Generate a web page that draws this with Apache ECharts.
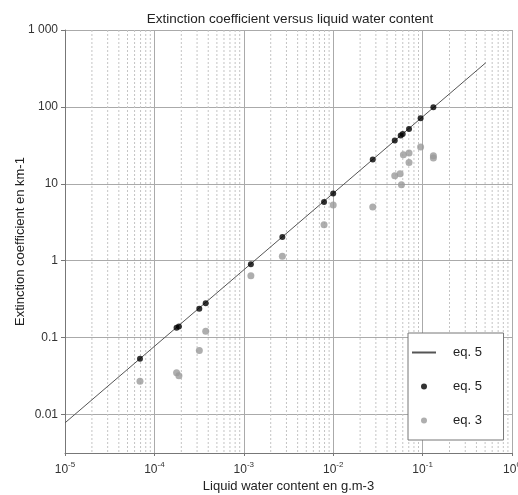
<!DOCTYPE html>
<html>
<head>
<meta charset="utf-8">
<script src="https://cdn.jsdelivr.net/npm/echarts@6/dist/echarts.min.js"></script>
<style>html,body{margin:0;padding:0;background:#fff;}#c{width:518px;height:495px;}</style>
</head>
<body>
<div id="c"></div>
<script>
// Data
var lwcEq5 = [6.9e-5, 1.77e-4, 1.88e-4, 3.18e-4, 3.75e-4, 1.2e-3, 2.7e-3, 7.9e-3, 1.0e-2, 2.77e-2, 4.88e-2, 5.69e-2, 5.99e-2, 7.05e-2, 9.5e-2, 0.132];
var extEq5 = [0.053, 0.134, 0.140, 0.238, 0.279, 0.90, 2.03, 5.8, 7.5, 20.7, 36.5, 42.4, 44.6, 51.8, 71.3, 99];
var lwcEq3 = [6.9e-5, 1.77e-4, 1.88e-4, 3.18e-4, 3.75e-4, 1.2e-3, 2.7e-3, 7.9e-3, 1.0e-2, 2.77e-2, 4.88e-2, 5.6e-2, 5.8e-2, 6.1e-2, 7.05e-2, 7.05e-2, 9.5e-2, 0.132, 0.132];
var extEq3 = [0.027, 0.035, 0.032, 0.068, 0.121, 0.64, 1.14, 2.94, 5.3, 4.98, 12.7, 13.5, 9.7, 23.8, 25.1, 18.9, 30.0, 23.1, 21.6];
var lineX = [1e-5, 0.51];
var lineY = [0.0078, 376];
var xExponents = ['-5', '-4', '-3', '-2', '-1', '0'];
var yTickLabels = ['0.01', '0.1', '1', '10', '100', '1 000'];
var minorMultipliers = [2, 3, 4, 5, 6, 7, 8, 9];
var decades = [1e-5, 1e-4, 1e-3, 1e-2, 1e-1];

var Y_MIN = Math.pow(10, -2.5), Y_MAX = 1000;

function zip(a, b) { return a.map(function (v, i) { return [v, b[i]]; }); }
var minorX = [];
decades.forEach(function (d) { minorMultipliers.forEach(function (m) { minorX.push([d * m, 1]); }); });

var FONT = 'Liberation Sans, Arial, sans-serif';
var chart = echarts.init(document.getElementById('c'), null, { renderer: 'canvas' });
chart.setOption({
  animation: false,
  backgroundColor: '#fff',
  textStyle: { fontFamily: FONT },
  title: {
    text: 'Extinction coefficient versus liquid water content',
    left: 285, top: 7, textAlign: 'center',
    textStyle: { fontSize: 13.5, fontWeight: 'normal', color: '#222', fontFamily: FONT }
  },
  grid: { left: 65, right: 6, top: 30, bottom: 42, containLabel: false, outerBoundsMode: 'none' },
  legend: {
    orient: 'vertical', left: 408, top: 333,
    padding: [13, 18, 13, 3], itemGap: 21, itemWidth: 24, itemHeight: 6,
    backgroundColor: '#fff', borderColor: '#777', borderWidth: 1, borderRadius: 0,
    textStyle: { fontSize: 13, color: '#222', fontFamily: FONT, padding: [0, 0, 0, 12] },
    data: [
      { name: 'eq. 5', itemStyle: { opacity: 0 } },
      'eq. 5 ',
      'eq. 3'
    ]
  },
  xAxis: {
    type: 'log', logBase: 10, min: 1e-5, max: 1,
    name: 'Liquid water content en g.m-3', nameLocation: 'middle', nameGap: 24,
    nameTextStyle: { fontSize: 13, color: '#222', fontFamily: FONT },
    axisLine: { show: true, lineStyle: { color: '#777', width: 1 } },
    axisTick: { show: true, length: 3, lineStyle: { color: '#777' } },
    axisLabel: {
      margin: 8, color: '#333', fontFamily: FONT, hideOverlap: false,
      formatter: function (v) {
        var e = Math.round(Math.log10(v));
        var idx = e + 5;
        return '{b|10}{s|' + xExponents[idx] + '}';
      },
      rich: {
        b: { fontSize: 12, color: '#333', fontFamily: FONT },
        s: { fontSize: 8, color: '#333', fontFamily: FONT, padding: [0, 0, 9, 0] }
      }
    },
    splitLine: { show: true, lineStyle: { color: '#aaa', width: 1 } },
    minorTick: { show: false },
    minorSplitLine: { show: false }
  },
  yAxis: {
    type: 'log', logBase: 10, min: Y_MIN, max: Y_MAX,
    name: 'Extinction coefficient en km-1', nameLocation: 'middle', nameGap: 38,
    nameMoveOverlap: false,
    nameTextStyle: { fontSize: 13, color: '#222', fontFamily: FONT },
    axisLine: { show: true, lineStyle: { color: '#777', width: 1 } },
    axisTick: { show: true, length: 4, lineStyle: { color: '#777' } },
    axisLabel: {
      margin: 7, fontSize: 12, color: '#333', fontFamily: FONT, showMinLabel: false,
      formatter: function (v) {
        var e = Math.round(Math.log10(v));
        var idx = e + 2;
        return (idx >= 0 && idx < yTickLabels.length) ? yTickLabels[idx] : '';
      }
    },
    splitLine: { show: true, lineStyle: { color: '#aaa', width: 1 } }
  },
  series: [
    {
      name: 'minor', type: 'custom', silent: true, z: 1,
      data: minorX,
      encode: { x: 0, y: 1 },
      renderItem: function (params, api) {
        var x = api.value(0);
        var p1 = api.coord([x, Y_MAX]);
        var p2 = api.coord([x, Y_MIN]);
        return {
          type: 'line',
          shape: { x1: p1[0], y1: p1[1], x2: p2[0], y2: p2[1] },
          style: { stroke: '#c4c4c4', lineWidth: 1, lineDash: [2, 2] }
        };
      }
    },
    {
      name: 'eq. 5', type: 'line', data: zip(lineX, lineY),
      symbol: 'none', showSymbol: false,
      lineStyle: { color: '#555', width: 1 }, itemStyle: { color: '#555' },
      z: 3
    },
    {
      name: 'eq. 5 ', type: 'scatter', data: zip(lwcEq5, extEq5),
      symbol: 'circle', symbolSize: 6, itemStyle: { color: '#000' }, z: 5
    },
    {
      name: 'eq. 3', type: 'scatter', data: zip(lwcEq3, extEq3),
      symbol: 'circle', symbolSize: 7, itemStyle: { color: '#9a9a9a' }, z: 4
    }
  ]
});
</script>
</body>
</html>
